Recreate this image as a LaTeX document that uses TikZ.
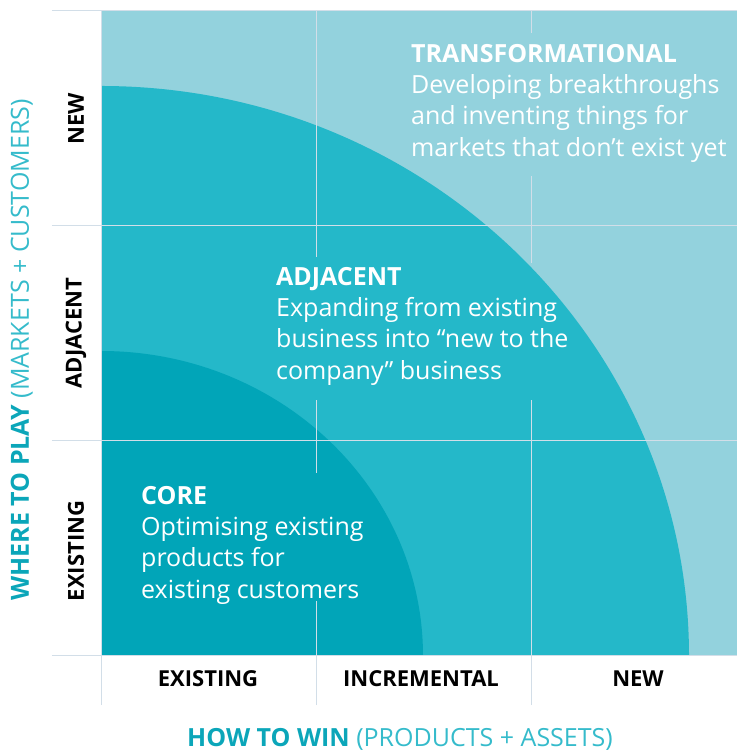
\documentclass[tikz,border=0pt]{standalone}
\usepackage{fontspec}
\setmainfont{Open Sans}
\usetikzlibrary{positioning}

\definecolor{tealLight}{HTML}{93D2DD}
\definecolor{tealMid}{HTML}{24B8C9}
\definecolor{tealDark}{HTML}{01A5B8}
\definecolor{gridLine}{HTML}{D2DEE8}
\definecolor{axisTeal}{HTML}{0BA6B9}
\definecolor{axisSoft}{HTML}{35BBCB}

\begin{document}
\begin{tikzpicture}[
    x=1pt, y=1pt,
    grid/.style={draw=gridLine, line width=1pt},
    blurb/.style={anchor=north west, inner sep=0pt, align=left, text=white,
      font=\fontsize{25}{31.3}\selectfont},
    rowlabel/.style={font=\bfseries\fontsize{22}{22}\selectfont, rotate=90},
    collabel/.style={font=\bfseries\fontsize{22}{22}\selectfont},
    axis/.style={text=axisSoft, inner sep=0pt, font=\fontsize{25}{25}\selectfont}
]

% fixed frame of the page
\useasboundingbox (-101,-95) rectangle (636,656);

% ===== CELL SIZE / EXTENT =====
\def\cell{215}
\def\W{636}
\def\H{645}

% ===== ZONES =====
\fill[tealLight] (0,0) rectangle (\W,\H);
\fill[tealMid] (0,0) -- (588,0) arc[start angle=0, end angle=90, x radius=588, y radius=570] -- cycle;
\fill[tealDark] (0,0) -- (322,0) arc[start angle=0, end angle=90, x radius=322, y radius=305] -- cycle;

% ===== GRID =====
\foreach \y in {0,215,430,645}
  \draw[grid] (-49,\y) -- (\W,\y);
\draw[grid] (0,-49) -- (0,\H);
% inner verticals stop short of the text blocks
\draw[grid] (215,-49) -- (215,55);
\draw[grid] (215,183) -- (215,256);
\draw[grid] (215,399) -- (215,\H);
\draw[grid] (430,-49) -- (430,256);
\draw[grid] (430,393) -- (430,480);
\draw[grid] (430,623) -- (430,\H);

% ===== ZONE TEXT =====
\node[blurb] (trans) at (310,612) {\textbf{TRANSFORMATIONAL}\\Developing breakthroughs\\and inventing things for\\markets that don’t exist yet};
\node[blurb] (adj) at (175,389) {\textbf{ADJACENT}\\Expanding from existing\\business into “new to the\\company” business};
\node[blurb] (core) at (40,170) {\textbf{CORE}\\Optimising existing\\products for\\existing customers};

% ===== ROW LABELS =====
\node[rowlabel] (rNew) at (-25,537) {NEW};
\node[rowlabel] (rAdj) at (-25,323) {ADJACENT};
\node[rowlabel] (rEx)  at (-25,105) {EXISTING};

% ===== COLUMN LABELS =====
\node[collabel] (cEx)  at (107,-23) {EXISTING};
\node[collabel] (cInc) at (320,-23) {INCREMENTAL};
\node[collabel] (cNew) at (537,-23) {NEW};

% ===== AXIS TITLES =====
\node[axis, anchor=base] (xAxis) at (299,-90) {\textcolor{axisTeal}{\bfseries HOW TO WIN} (PRODUCTS + ASSETS)};
\node[axis, anchor=base, rotate=90] (yAxis) at (-72,306) {\textcolor{axisTeal}{\bfseries WHERE TO PLAY} (MARKETS + CUSTOMERS)};

\end{tikzpicture}
\end{document}
